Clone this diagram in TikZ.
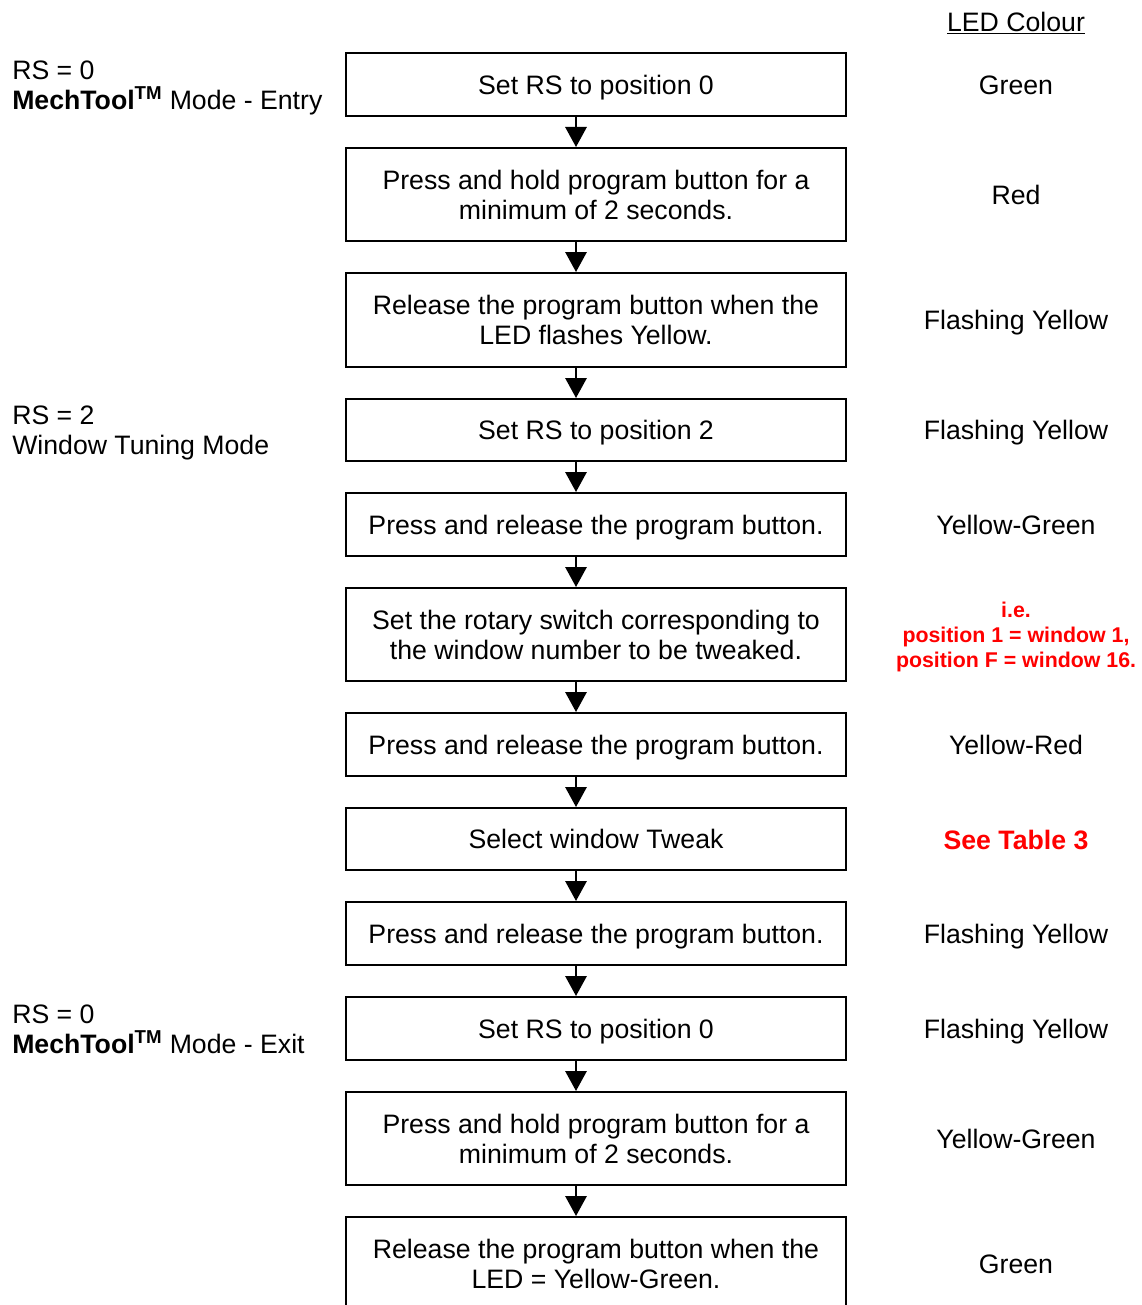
\documentclass[tikz,border=0pt]{standalone}
\usepackage{fontspec}
\setmainfont{Liberation Sans}
\usetikzlibrary{arrows.meta}
\definecolor{brightred}{RGB}{255,0,0}
\tikzset{
  stepbox/.style={draw, line width=1.5pt, minimum width=375pt, inner sep=0pt, align=center,
    font=\fontsize{20}{22.5}\selectfont},
  oneline/.style={text height=16pt, text depth=1.7pt},
  flow/.style={line width=1.5pt, -{Triangle[width=16pt,length=15pt]}},
  ledtxt/.style={inner sep=0pt, align=center, text height=16pt, text depth=1.7pt, font=\fontsize{20}{22.5}\selectfont},
  redtxt/.style={inner sep=0pt, align=center, text=brightred, font=\fontsize{16}{18.4}\selectfont\bfseries},
  sidetxt/.style={inner sep=0pt, anchor=west, align=left, font=\fontsize{20}{22.5}\selectfont}
}
\begin{document}
\begin{tikzpicture}[x=0.75pt,y=-0.75pt]
\useasboundingbox (0,0) rectangle (1141,1305);
\begin{scope}
\clip (0,0) rectangle (1141,1305);
% boxes
\node[stepbox, oneline, minimum height=47.25pt] (b1) at (596,84.5) {Set RS to position 0};
\node[stepbox, minimum height=69.75pt] (b2) at (596,194.5) {Press and hold program button for a\\minimum of 2 seconds.};
\node[stepbox, minimum height=70.5pt] (b3) at (596,320) {Release the program button when the\\LED flashes Yellow.};
\node[stepbox, oneline, minimum height=46.5pt] (b4) at (596,430) {Set RS to position 2};
\node[stepbox, oneline, minimum height=47.25pt] (b5) at (596,524.5) {Press and release the program button.};
\node[stepbox, minimum height=69.75pt] (b6) at (596,634.5) {Set the rotary switch corresponding to\\the window number to be tweaked.};
\node[stepbox, oneline, minimum height=47.25pt] (b7) at (596,744.5) {Press and release the program button.};
\node[stepbox, oneline, minimum height=46.5pt] (b8) at (596,839) {Select window Tweak};
\node[stepbox, oneline, minimum height=47.25pt] (b9) at (596,933.5) {Press and release the program button.};
\node[stepbox, oneline, minimum height=47.25pt] (b10) at (596,1028.5) {Set RS to position 0};
\node[stepbox, minimum height=69.75pt] (b11) at (596,1138.5) {Press and hold program button for a\\minimum of 2 seconds.};
\node[stepbox, minimum height=69.75pt] (b12) at (596,1263.5) {Release the program button when the\\LED = Yellow-Green.};
% connectors
\foreach \a/\b in {b1/b2,b2/b3,b3/b4,b4/b5,b5/b6,b6/b7,b7/b8,b8/b9,b9/b10,b10/b11,b11/b12}
  \draw[flow] ([xshift=-15pt]\a.south) -- ([xshift=-15pt]\b.north);
% LED colours
\node[ledtxt] (hdr) at (1016,22) {\underline{LED Colour}};
\node[ledtxt] (c1) at (1016,85) {Green};
\node[ledtxt] (c2) at (1016,195) {Red};
\node[ledtxt] (c3) at (1016,320) {Flashing Yellow};
\node[ledtxt] (c4) at (1016,430) {Flashing Yellow};
\node[ledtxt] (c5) at (1016,525) {Yellow-Green};
\node[redtxt] (c6) at (1016,637) {i.e.\\position 1 = window 1,\\position F = window 16.};
\node[ledtxt] (c7) at (1016,745) {Yellow-Red};
\node[ledtxt, text=brightred, font=\fontsize{20}{22.5}\selectfont\bfseries] (c8) at (1016,840) {See Table 3};
\node[ledtxt] (c9) at (1016,934) {Flashing Yellow};
\node[ledtxt] (c10) at (1016,1029) {Flashing Yellow};
\node[ledtxt] (c11) at (1016,1139) {Yellow-Green};
\node[ledtxt] (c12) at (1016,1264) {Green};
% side labels
\node[sidetxt] (s1) at (12,88) {RS = 0\\\textbf{MechTool}\textsuperscript{\textbf{TM}} Mode - Entry};
\node[sidetxt] (s2) at (12,433) {RS = 2\\Window Tuning Mode};
\node[sidetxt] (s3) at (12,1029) {RS = 0\\\textbf{MechTool}\textsuperscript{\textbf{TM}} Mode - Exit};
\end{scope}
\end{tikzpicture}
\end{document}
